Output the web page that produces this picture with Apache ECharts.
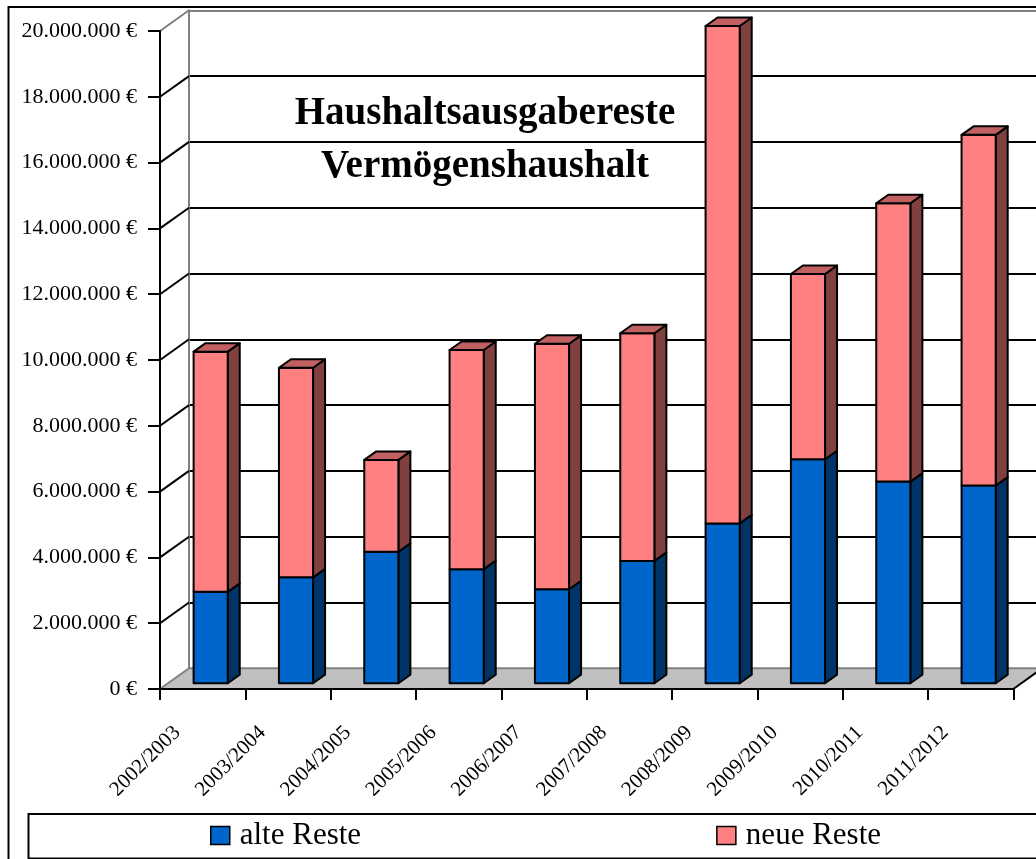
<!DOCTYPE html>
<html><head><meta charset="utf-8">
<script src="https://cdn.jsdelivr.net/npm/echarts@6/dist/echarts.min.js"></script>
<style>html,body{margin:0;padding:0;background:#fff}#c{width:1036px;height:859px}</style>
</head><body><div id="c"></div>
<script>
// ---- data ----
const categories = ['2002/2003','2003/2004','2004/2005','2005/2006','2006/2007','2007/2008','2008/2009','2009/2010','2010/2011','2011/2012'];
const alteReste = [2780000, 3220000, 4000000, 3470000, 2860000, 3720000, 4860000, 6810000, 6130000, 6010000];
const neueReste = [7300000, 6370000, 2790000, 6660000, 7460000, 6920000, 15120000, 5630000, 8460000, 10660000];
const yTicks = [0, 2000000, 4000000, 6000000, 8000000, 10000000, 12000000, 14000000, 16000000, 18000000, 20000000];
const seriesNames = ['alte Reste', 'neue Reste'];
const titleLines = ['Haushaltsausgabereste', 'Vermögenshaushalt'];

// ---- style constants ----
const FONT = '"Liberation Serif", "Times New Roman", serif';
const WALL_DX = 29, WALL_DY = -20.7;     // depth of the chart box
const FRONT_DX = 8, FRONT_DY = -5.7;     // bar front plane offset
const BAR_DX = 12, BAR_DY = -8.5;        // bar depth
const COLORS = {
  alte: {front: '#0066cc', side: '#003366', top: '#0059b3'},
  neue: {front: '#ff8080', side: '#804040', top: '#c06060'}
};

function fmt(v) {
  return String(v).replace(/\B(?=(\d{3})+(?!\d))/g, '.') + ' €';
}

const alteData = categories.map((c, i) => [i, 0, alteReste[i]]);
const neueData = categories.map((c, i) => [i, alteReste[i], alteReste[i] + neueReste[i]]);

function makeBarRenderer(col, drawTop) {
  return function (params, api) {
    const i = api.value(0);
    const pBase = api.coord([i, api.value(1)]);
    const pTop = api.coord([i, api.value(2)]);
    const bw = api.size([1, 0])[0];
    const c = pBase[0];
    const L = c - bw * 0.2 + FRONT_DX;
    const W = bw * 0.4;
    const R = L + W;
    const y0 = pBase[1] + FRONT_DY;
    const y1 = pTop[1] + FRONT_DY;
    const st = {stroke: '#000', lineWidth: 2, lineJoin: 'round'};
    const children = [
      {type: 'polygon', shape: {points: [[R, y0], [R + BAR_DX, y0 + BAR_DY], [R + BAR_DX, y1 + BAR_DY], [R, y1]]},
       style: Object.assign({fill: col.side}, st)},
      {type: 'rect', shape: {x: L, y: y1, width: W, height: y0 - y1},
       style: Object.assign({fill: col.front}, st)}
    ];
    if (drawTop) {
      children.push({type: 'polygon', shape: {points: [[L, y1], [L + BAR_DX, y1 + BAR_DY], [R + BAR_DX, y1 + BAR_DY], [R, y1]]},
        style: Object.assign({fill: col.top}, st)});
    }
    return {type: 'group', children: children};
  };
}

const chart = echarts.init(document.getElementById('c'), null, {renderer: 'canvas'});
const splitColors = yTicks.map((v, k) => (k === 0 || k === yTicks.length - 1) ? '#808080' : '#000');

chart.setOption({
  backgroundColor: '#fff',
  animation: false,
  grid: [
    {left: 160, top: 31, right: 22.7, bottom: 170, outerBoundsMode: 'none', containLabel: false},
    {left: 160 + WALL_DX, top: 31 + WALL_DY, right: 22.7 - WALL_DX, bottom: 170 - WALL_DY, outerBoundsMode: 'none', containLabel: false}
  ],
  xAxis: [
    {type: 'category', gridIndex: 0, data: categories, z: 5,
     axisLine: {show: true, lineStyle: {color: '#000', width: 2}},
     axisTick: {show: true, length: 11, lineStyle: {color: '#000', width: 2}},
     axisLabel: {interval: 0, rotate: 45, margin: 15, padding: [0, 36, 0, 0], fontSize: 21, fontFamily: FONT, color: '#000'},
     splitLine: {show: false}},
    {type: 'category', gridIndex: 1, data: categories, show: false}
  ],
  yAxis: [
    {type: 'value', gridIndex: 0, min: 0, max: 20000000, interval: 2000000, z: 5,
     axisLine: {show: true, lineStyle: {color: '#000', width: 2}},
     axisTick: {show: true, length: 12, lineStyle: {color: '#000', width: 2}},
     axisLabel: {margin: 23, fontSize: 22, fontFamily: FONT, color: '#000', formatter: fmt},
     splitLine: {show: false}},
    {type: 'value', gridIndex: 1, min: 0, max: 20000000, interval: 2000000, z: 0,
     axisLine: {show: true, lineStyle: {color: '#808080', width: 2}},
     axisTick: {show: false}, axisLabel: {show: false},
     splitLine: {show: true, lineStyle: {color: splitColors, width: 2}}}
  ],
  legend: {
    data: seriesNames, left: 210, top: 820, padding: 0, itemGap: 355,
    itemWidth: 19, itemHeight: 18, icon: 'rect',
    itemStyle: {borderColor: '#000', borderWidth: 1.5},
    textStyle: {fontSize: 31, fontFamily: FONT, color: '#000', padding: [0, 0, 0, 5]}
  },
  graphic: [
    {type: 'rect', z: 100, silent: true, shape: {x: 8.5, y: 7, width: 1100, height: 900},
     style: {fill: 'none', stroke: '#000', lineWidth: 2}},
    {type: 'rect', z: 100, silent: true, shape: {x: 28.5, y: 814, width: 1100, height: 44.5},
     style: {fill: 'none', stroke: '#000', lineWidth: 2}},
    {type: 'text', z: 100, silent: true, x: 485, y: 87,
     style: {text: titleLines.join('\n'), font: 'bold 39px ' + FONT, fill: '#000',
             align: 'center', verticalAlign: 'top', lineHeight: 53}}
  ],
  series: [
    { // floor
      type: 'custom', name: 'floor', xAxisIndex: 0, yAxisIndex: 0, z: 1, silent: true,
      data: [[0, 0]],
      renderItem: function (params, api) {
        const cs = params.coordSys;
        const yb = api.coord([0, 0])[1];
        const x0 = cs.x, x1 = cs.x + cs.width;
        return {type: 'group', children: [
          {type: 'polygon', shape: {points: [[x0, yb], [x1, yb], [x1 + WALL_DX, yb + WALL_DY], [x0 + WALL_DX, yb + WALL_DY]]},
           style: {fill: '#c0c0c0', stroke: 'none'}},
          {type: 'line', shape: {x1: x0 + WALL_DX, y1: yb + WALL_DY, x2: x1 + WALL_DX, y2: yb + WALL_DY}, style: {stroke: '#808080', lineWidth: 2}},
          {type: 'line', shape: {x1: x1, y1: yb, x2: x1 + WALL_DX, y2: yb + WALL_DY}, style: {stroke: '#000', lineWidth: 2}}
        ]};
      }
    },
    { // side wall lines
      type: 'custom', name: 'side', xAxisIndex: 0, yAxisIndex: 0, z: 1, silent: true,
      data: yTicks.map(v => [0, v]),
      renderItem: function (params, api) {
        const cs = params.coordSys;
        const y = api.coord([0, api.value(1)])[1];
        const k = params.dataIndex;
        const gray = (k === 0 || k === yTicks.length - 1);
        return {type: 'line', shape: {x1: cs.x, y1: y, x2: cs.x + WALL_DX, y2: y + WALL_DY},
                style: {stroke: gray ? '#808080' : '#000', lineWidth: 2}};
      }
    },
    {
      type: 'custom', name: seriesNames[0], xAxisIndex: 0, yAxisIndex: 0, z: 3,
      itemStyle: {color: COLORS.alte.front},
      encode: {x: 0, y: 2},
      data: alteData,
      renderItem: makeBarRenderer(COLORS.alte, false)
    },
    {
      type: 'custom', name: seriesNames[1], xAxisIndex: 0, yAxisIndex: 0, z: 3,
      itemStyle: {color: COLORS.neue.front},
      encode: {x: 0, y: 2},
      data: neueData,
      renderItem: makeBarRenderer(COLORS.neue, true)
    }
  ]
});
</script>
</body></html>
